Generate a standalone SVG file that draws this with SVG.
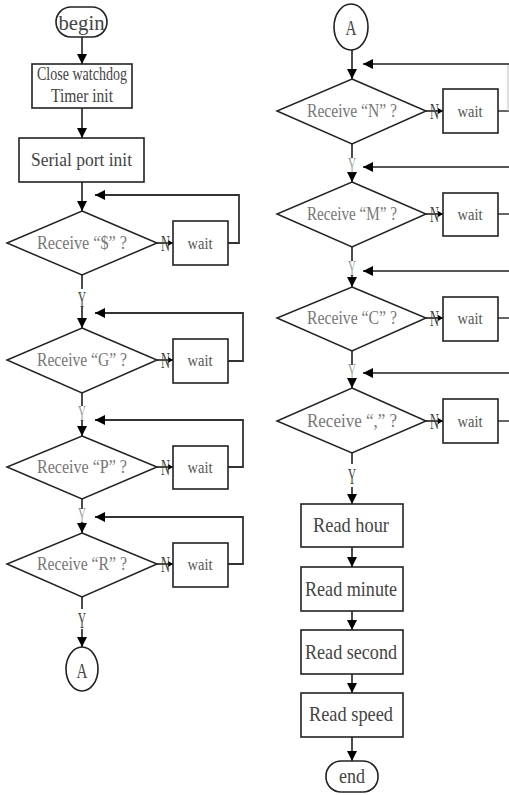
<svg xmlns="http://www.w3.org/2000/svg" width="509" height="795" viewBox="0 0 509 795">
  <defs>
    <marker id="arr" markerUnits="userSpaceOnUse" markerWidth="10" markerHeight="10" refX="10" refY="5" orient="auto">
      <path d="M0,0 L10,5 L0,10 Z" fill="#000"/>
    </marker>
    <marker id="arrs" markerUnits="userSpaceOnUse" markerWidth="5" markerHeight="6" refX="5" refY="3" orient="auto">
      <path d="M0,0 L5,3 L0,6 Z" fill="#000"/>
    </marker>
  </defs>
  <style>
    .box { fill: #fff; stroke: #222; stroke-width: 1.6; }
    .dia { fill: #fff; stroke: #222; stroke-width: 1.5; }
    .ln { fill: none; stroke: #111; stroke-width: 1.5; }
    .fb { fill: none; stroke: #333; stroke-width: 1.8; }
    .fbr { fill: none; stroke: #555; stroke-width: 1.8; }
    text { font-family: "Liberation Serif", serif; text-anchor: middle; }
    .q { font-size: 18px; fill: #777; }
    .w { font-size: 17px; fill: #555; }
    .t { font-size: 18px; fill: #444; }
    .r { font-size: 21px; fill: #444; }
    .yn { font-size: 24px; fill: #444; }
  </style>

  <!-- connectors -->
  <g id="connectors">
    <!-- left column main flow -->
    <line class="ln" x1="82" y1="37" x2="82" y2="64" marker-end="url(#arr)"/>
    <line class="ln" x1="82" y1="108" x2="82" y2="138" marker-end="url(#arr)"/>
    <line class="ln" x1="82" y1="182" x2="82" y2="211" marker-end="url(#arr)"/>
    <line class="ln" x1="82" y1="275" x2="82" y2="289"/>
    <line class="ln" x1="82" y1="307" x2="82" y2="328" marker-end="url(#arr)"/>
    <line class="ln" x1="82" y1="393" x2="82" y2="406"/>
    <line class="ln" x1="82" y1="420" x2="82" y2="436" marker-end="url(#arr)"/>
    <line class="ln" x1="82" y1="499" x2="82" y2="509"/>
    <line class="ln" x1="82" y1="522" x2="82" y2="533" marker-end="url(#arr)"/>
    <line class="ln" x1="82" y1="597" x2="82" y2="609"/>
    <line class="ln" x1="82" y1="629" x2="82" y2="647" marker-end="url(#arr)"/>

    <!-- left column N branches -->
    <line class="ln" x1="157" y1="243" x2="173" y2="243" marker-end="url(#arrs)"/>
    <line class="ln" x1="157" y1="360" x2="173" y2="360" marker-end="url(#arrs)"/>
    <line class="ln" x1="157" y1="467" x2="173" y2="467" marker-end="url(#arrs)"/>
    <line class="ln" x1="157" y1="564" x2="173" y2="564" marker-end="url(#arrs)"/>

    <!-- left column loops back -->
    <path class="fb" d="M228,243 H239 V195 H95" marker-end="url(#arr)"/>
    <path class="fb" d="M228,361 H243 V313 H95" marker-end="url(#arr)"/>
    <path class="fb" d="M228,467 H243 V420 H95" marker-end="url(#arr)"/>
    <path class="fb" d="M228,564 H243 V517 H95" marker-end="url(#arr)"/>

    <!-- right column main flow -->
    <line class="ln" x1="352" y1="50" x2="352" y2="79" marker-end="url(#arr)"/>
    <line class="ln" x1="352" y1="144" x2="352" y2="158"/>
    <line class="ln" x1="352" y1="172" x2="352" y2="182" marker-end="url(#arr)"/>
    <line class="ln" x1="352" y1="247" x2="352" y2="261"/>
    <line class="ln" x1="352" y1="275" x2="352" y2="287" marker-end="url(#arr)"/>
    <line class="ln" x1="352" y1="351" x2="352" y2="365"/>
    <line class="ln" x1="352" y1="378" x2="352" y2="388" marker-end="url(#arr)"/>
    <line class="ln" x1="352" y1="453" x2="352" y2="464"/>
    <line class="ln" x1="352" y1="487" x2="352" y2="504" marker-end="url(#arr)"/>
    <line class="ln" x1="352" y1="547" x2="352" y2="567" marker-end="url(#arr)"/>
    <line class="ln" x1="352" y1="611" x2="352" y2="630" marker-end="url(#arr)"/>
    <line class="ln" x1="352" y1="674" x2="352" y2="693" marker-end="url(#arr)"/>
    <line class="ln" x1="352" y1="737" x2="352" y2="761" marker-end="url(#arr)"/>

    <!-- right column N branches -->
    <line class="ln" x1="426" y1="111" x2="443" y2="111" marker-end="url(#arrs)"/>
    <line class="ln" x1="426" y1="214" x2="443" y2="214" marker-end="url(#arrs)"/>
    <line class="ln" x1="426" y1="318" x2="443" y2="318" marker-end="url(#arrs)"/>
    <line class="ln" x1="426" y1="421" x2="443" y2="421" marker-end="url(#arrs)"/>

    <!-- right column loops back (run past the right edge) -->
    <path class="fbr" d="M498,111 H509"/>
    <path class="fbr" d="M498,214 H509"/>
    <path class="fbr" d="M498,318 H509"/>
    <path class="fbr" d="M498,421 H509"/>
    <line x1="508" y1="64" x2="508" y2="111" stroke="#bbb" stroke-width="1"/>
    <path class="fbr" d="M509,64 H363" marker-end="url(#arr)"/>
    <path class="fbr" d="M509,167 H363" marker-end="url(#arr)"/>
    <path class="fbr" d="M509,271 H363" marker-end="url(#arr)"/>
    <path class="fbr" d="M509,373 H363" marker-end="url(#arr)"/>

    <!-- Y / N labels -->
    <text class="yn" x="82" y="307" textLength="8" lengthAdjust="spacingAndGlyphs">Y</text>
    <text class="yn" x="82" y="421" textLength="8" lengthAdjust="spacingAndGlyphs" fill-opacity="0.55">Y</text>
    <text class="yn" x="82" y="523" textLength="8" lengthAdjust="spacingAndGlyphs" fill-opacity="0.55">Y</text>
    <text class="yn" x="82" y="628" textLength="8" lengthAdjust="spacingAndGlyphs">Y</text>
    <text class="yn" x="352" y="173" textLength="8" lengthAdjust="spacingAndGlyphs" fill-opacity="0.55">Y</text>
    <text class="yn" x="352" y="276" textLength="8" lengthAdjust="spacingAndGlyphs" fill-opacity="0.55">Y</text>
    <text class="yn" x="352" y="379" textLength="8" lengthAdjust="spacingAndGlyphs" fill-opacity="0.55">Y</text>
    <text class="yn" x="352" y="484" textLength="8" lengthAdjust="spacingAndGlyphs">Y</text>

    <text class="yn" x="165.5" y="251" textLength="9" lengthAdjust="spacingAndGlyphs">N</text>
    <text class="yn" x="165.5" y="368" textLength="9" lengthAdjust="spacingAndGlyphs">N</text>
    <text class="yn" x="165.5" y="475" textLength="9" lengthAdjust="spacingAndGlyphs">N</text>
    <text class="yn" x="165.5" y="572" textLength="9" lengthAdjust="spacingAndGlyphs">N</text>
    <text class="yn" x="434.5" y="119" textLength="9" lengthAdjust="spacingAndGlyphs">N</text>
    <text class="yn" x="434.5" y="222" textLength="9" lengthAdjust="spacingAndGlyphs">N</text>
    <text class="yn" x="434.5" y="326" textLength="9" lengthAdjust="spacingAndGlyphs">N</text>
    <text class="yn" x="434.5" y="429" textLength="9" lengthAdjust="spacingAndGlyphs">N</text>
  </g>

  <!-- left column nodes -->
  <g id="begin">
    <rect class="box" x="56" y="7" width="51" height="30" rx="15"/>
    <text class="r" x="81.5" y="30" font-size="23" textLength="46" lengthAdjust="spacingAndGlyphs">begin</text>
  </g>
  <g id="init-watchdog">
    <rect class="box" x="32" y="64" width="100" height="44"/>
    <text class="t" x="82" y="80" textLength="90" lengthAdjust="spacingAndGlyphs">Close watchdog</text>
    <text class="t" x="82" y="102" textLength="62" lengthAdjust="spacingAndGlyphs">Timer init</text>
  </g>
  <g id="init-serial">
    <rect class="box" x="19" y="138" width="125" height="44"/>
    <text class="t" x="81.5" y="166" textLength="101" lengthAdjust="spacingAndGlyphs">Serial port init</text>
  </g>

  <g id="dec-dollar">
    <polygon class="dia" points="82,211 157,243 82,275 7,243"/>
    <text class="q" x="82" y="249" textLength="90" lengthAdjust="spacingAndGlyphs">Receive “$” ?</text>
  </g>
  <g id="wait-dollar">
    <rect class="box" x="173" y="221" width="55" height="44"/>
    <text class="w" x="200" y="248.5" textLength="25" lengthAdjust="spacingAndGlyphs">wait</text>
  </g>

  <g id="dec-g">
    <polygon class="dia" points="82,328 157,360 82,393 7,360"/>
    <text class="q" x="82" y="366" textLength="90" lengthAdjust="spacingAndGlyphs">Receive “G” ?</text>
  </g>
  <g id="wait-g">
    <rect class="box" x="173" y="339" width="55" height="44"/>
    <text class="w" x="200" y="365.5" textLength="25" lengthAdjust="spacingAndGlyphs">wait</text>
  </g>

  <g id="dec-p">
    <polygon class="dia" points="82,436 157,467 82,499 7,467"/>
    <text class="q" x="82" y="473" textLength="90" lengthAdjust="spacingAndGlyphs">Receive “P” ?</text>
  </g>
  <g id="wait-p">
    <rect class="box" x="173" y="446" width="55" height="43"/>
    <text class="w" x="200" y="472.5" textLength="25" lengthAdjust="spacingAndGlyphs">wait</text>
  </g>

  <g id="dec-r">
    <polygon class="dia" points="82,533 157,564 82,597 7,564"/>
    <text class="q" x="82" y="570" textLength="90" lengthAdjust="spacingAndGlyphs">Receive “R” ?</text>
  </g>
  <g id="wait-r">
    <rect class="box" x="173" y="543" width="55" height="44"/>
    <text class="w" x="200" y="569.5" textLength="25" lengthAdjust="spacingAndGlyphs">wait</text>
  </g>

  <g id="conn-a-out">
    <ellipse class="box" cx="82" cy="669" rx="16" ry="22"/>
    <text class="r" x="82" y="678" font-size="23" textLength="11" lengthAdjust="spacingAndGlyphs">A</text>
  </g>

  <!-- right column nodes -->
  <g id="conn-a-in">
    <ellipse class="box" cx="351" cy="27" rx="17" ry="23"/>
    <text class="r" x="351" y="35" font-size="23" textLength="11" lengthAdjust="spacingAndGlyphs">A</text>
  </g>

  <g id="dec-n">
    <polygon class="dia" points="352,79 426,111 352,144 277,111"/>
    <text class="q" x="352" y="117" textLength="90" lengthAdjust="spacingAndGlyphs">Receive “N” ?</text>
  </g>
  <g id="wait-n">
    <rect class="box" x="443" y="89" width="55" height="44"/>
    <text class="w" x="470" y="116.5" textLength="25" lengthAdjust="spacingAndGlyphs">wait</text>
  </g>

  <g id="dec-m">
    <polygon class="dia" points="352,182 426,214 352,247 277,214"/>
    <text class="q" x="352" y="220" textLength="90" lengthAdjust="spacingAndGlyphs">Receive “M” ?</text>
  </g>
  <g id="wait-m">
    <rect class="box" x="443" y="193" width="55" height="43"/>
    <text class="w" x="470" y="219.5" textLength="25" lengthAdjust="spacingAndGlyphs">wait</text>
  </g>

  <g id="dec-c">
    <polygon class="dia" points="352,287 426,318 352,351 277,318"/>
    <text class="q" x="352" y="324" textLength="90" lengthAdjust="spacingAndGlyphs">Receive “C” ?</text>
  </g>
  <g id="wait-c">
    <rect class="box" x="443" y="297" width="55" height="44"/>
    <text class="w" x="470" y="323.5" textLength="25" lengthAdjust="spacingAndGlyphs">wait</text>
  </g>

  <g id="dec-comma">
    <polygon class="dia" points="352,388 426,421 352,453 277,421"/>
    <text class="q" x="352" y="427" textLength="90" lengthAdjust="spacingAndGlyphs">Receive “,” ?</text>
  </g>
  <g id="wait-comma">
    <rect class="box" x="443" y="399" width="55" height="44"/>
    <text class="w" x="470" y="426.5" textLength="25" lengthAdjust="spacingAndGlyphs">wait</text>
  </g>

  <g id="read-hour">
    <rect class="box" x="301" y="504" width="102" height="43"/>
    <text class="r" x="351" y="532" textLength="76" lengthAdjust="spacingAndGlyphs">Read hour</text>
  </g>
  <g id="read-minute">
    <rect class="box" x="301" y="567" width="102" height="44"/>
    <text class="r" x="351" y="596" textLength="92" lengthAdjust="spacingAndGlyphs">Read minute</text>
  </g>
  <g id="read-second">
    <rect class="box" x="301" y="630" width="102" height="44"/>
    <text class="r" x="351" y="659" textLength="92" lengthAdjust="spacingAndGlyphs">Read second</text>
  </g>
  <g id="read-speed">
    <rect class="box" x="301" y="693" width="102" height="44"/>
    <text class="r" x="351" y="721" textLength="84" lengthAdjust="spacingAndGlyphs">Read speed</text>
  </g>
  <g id="end">
    <rect class="box" x="326" y="761" width="52" height="31" rx="15"/>
    <text class="r" x="352" y="783" textLength="26" lengthAdjust="spacingAndGlyphs">end</text>
  </g>
</svg>
